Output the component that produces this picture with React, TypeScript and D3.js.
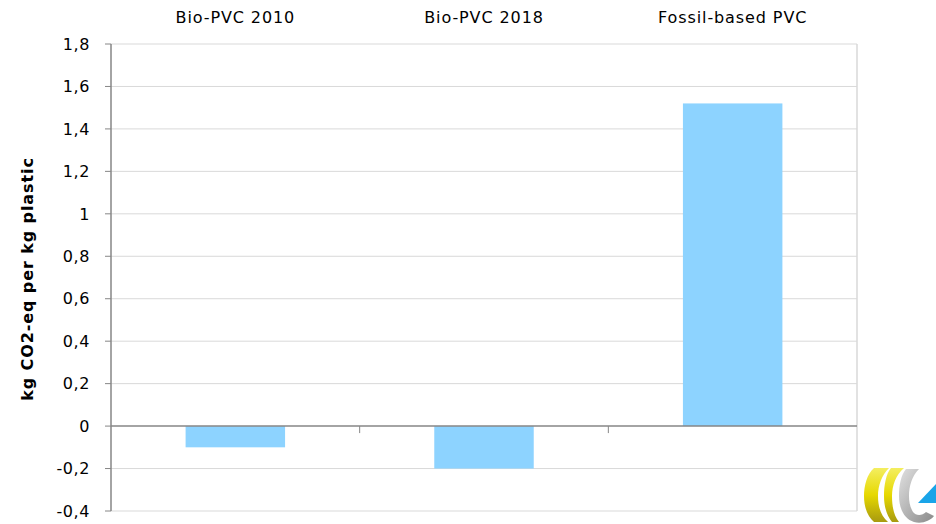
import React from "react";
import * as d3 from "d3";

const categories = ["Bio-PVC 2010", "Bio-PVC 2018", "Fossil-based PVC"];
const values = [-0.1, -0.2, 1.52];
const yTicks = [-0.4, -0.2, 0, 0.2, 0.4, 0.6, 0.8, 1, 1.2, 1.4, 1.6, 1.8];
const yLabel = "kg CO2-eq per kg plastic";

const W = 936, H = 524;
const left = 111, right = 857, top = 44, bottom = 511;
const FONT = "'DejaVu Sans', sans-serif";

export default function App() {
  const x = d3.scaleBand<string>().domain(categories).range([left, right]).paddingInner(0.6).paddingOuter(0.3);
  const xOuter = d3.scaleBand<string>().domain(categories).range([left, right]);
  const y = d3.scaleLinear().domain([-0.4, 1.8]).range([bottom, top]);
  const fmt = (v: number) =>
    Math.abs(v) < 1e-9 ? "0" : String(+v.toFixed(1)).replace(".", ",");
  const y0 = y(0);
  return (
    <svg width={W} height={H} style={{ position: "absolute", left: 0, top: 0, background: "#fff" }} fontFamily={FONT}>
      <defs>
        <linearGradient id="yel" x1="0" y1="0" x2="0" y2="1">
          <stop offset="0" stopColor="#f4ee60" />
          <stop offset="0.5" stopColor="#e6d800" />
          <stop offset="1" stopColor="#a89a10" />
        </linearGradient>
        <linearGradient id="gry" x1="0" y1="0" x2="1" y2="1">
          <stop offset="0" stopColor="#e0e0e0" />
          <stop offset="1" stopColor="#8a8a8a" />
        </linearGradient>
      </defs>
      {yTicks.map((t) => (
        <g key={t}>
          {t !== 0 && <line x1={left} x2={right} y1={y(t)} y2={y(t)} stroke="#d9d9d9" strokeWidth={1} />}
          <line x1={left - 6} x2={left} y1={y(t)} y2={y(t)} stroke="#868686" strokeWidth={1} />
          <text x={left - 21} y={y(t)} dy="0.36em" textAnchor="end" fontSize={16} letterSpacing={0.6} fill="#000">{fmt(t)}</text>
        </g>
      ))}
      <line x1={right} x2={right} y1={top} y2={bottom} stroke="#d9d9d9" strokeWidth={1.5} />
      {categories.map((c, i) => {
        const v = values[i];
        return (
          <rect key={c} x={x(c)!} width={x.bandwidth()} y={Math.min(y(v), y0)} height={Math.abs(y(v) - y0)} fill="#8dd3ff" />
        );
      })}
      <line x1={left} x2={right} y1={y0} y2={y0} stroke="#868686" strokeWidth={1.5} />
      {categories.slice(1).map((c) => (
        <line key={c} x1={xOuter(c)!} x2={xOuter(c)!} y1={y0} y2={y0 + 7} stroke="#868686" strokeWidth={1} />
      ))}
      <line x1={left} x2={left} y1={top} y2={bottom} stroke="#868686" strokeWidth={1.5} />
      {categories.map((c) => (
        <text key={c} x={xOuter(c)! + xOuter.bandwidth() / 2} y={23} textAnchor="middle" fontSize={16} letterSpacing={0.9} fill="#000">{c}</text>
      ))}
      <text transform={`translate(33,279) rotate(-90)`} textAnchor="middle" fontSize={16} fontWeight="bold" letterSpacing={0.9} fill="#000">{yLabel}</text>
      <g transform="translate(862,466)">
        <path d="M12,2 C5,8 2,20 2,30 C2,42 6,51 12,56 L26,56 C19,50 16,41 16,30 C16,19 20,9 27,2 Z" fill="url(#yel)" />
        <path d="M29,2 C24,8 22,19 22,30 C22,41 25,50 30,56 L37,56 C32,50 30,41 30,30 C30,19 34,9 42,2 Z" fill="url(#yel)" />
        <path d="M44,3 C39,9 37,19 37,30 C37,42 42,53 52,56 C60,58 68,55 72,50 L64,46 C60,50 54,50 51,46 C48,41 47,36 47,30 C47,20 50,10 57,3 Z" fill="url(#gry)" />
        <path d="M56,37 L74,18 L74,37 Z" fill="#19a4e8" />
      </g>
    </svg>
  );
}
